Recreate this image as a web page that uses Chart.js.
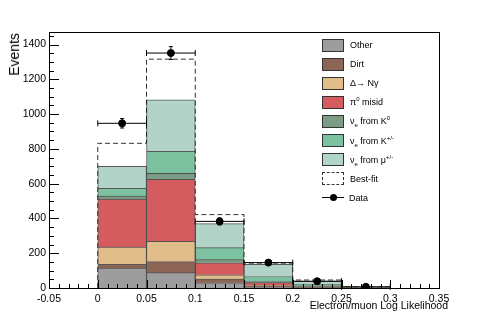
<!DOCTYPE html>
<html>
<head>
<meta charset="utf-8">
<script src="https://cdn.jsdelivr.net/npm/chart.js"></script>
<style>
  body { margin: 0; background: #fff; }
  #wrap { position: relative; width: 491px; height: 320px; font-family: "Liberation Sans", Arial, sans-serif; }
  #ytitle { position: absolute; left: 6px; top: 33px; font-size: 14px; writing-mode: vertical-rl; transform: rotate(180deg); line-height: 16px; }
  #xtitle { position: absolute; right: 43px; top: 299px; font-size: 10.5px; white-space: nowrap; }
  #legend { position: absolute; left: 322px; top: 35.5px; font-size: 9px; }
  .row { height: 19.1px; display: flex; align-items: center; }
  .box { width: 20px; height: 11px; border: 1px solid #333; margin-right: 6px; box-sizing: content-box; }
  .dash { border: 1px dashed #333; background: transparent; }
  .mark { position: relative; width: 22px; height: 13px; margin-right: 5px; }
  .mark::before { content: ""; position: absolute; left: 0; right: 0; top: 6px; height: 1px; background: #000; }
  .mark::after { content: ""; position: absolute; left: 7.5px; top: 3px; width: 7px; height: 7px; border-radius: 50%; background: #000; }
  sub, sup { font-size: 6px; line-height: 0; }
</style>
</head>
<body>
<div id="wrap">
  <canvas id="chart" width="491" height="320"></canvas>
  <div id="ytitle">Events</div>
  <div id="xtitle">Electron/muon Log Likelihood</div>
  <div id="legend"></div>
</div>
<script>
// bins of the log-likelihood variable
const binEdges = [0, 0.05, 0.1, 0.15, 0.2, 0.25, 0.3];
const binCenters = [0.025, 0.075, 0.125, 0.175, 0.225, 0.275];

// stacked background components (events per bin)
const other   = [115, 88, 30, 5, 1, 0];
const dirt    = [21, 64, 21, 5, 1, 0];
const deltaNg = [100, 117, 25, 4, 1, 0];
const pi0     = [275, 356, 69, 17, 4, 1];
const nueK0   = [17, 34, 18, 6, 2, 0];
const nueKpm  = [45, 127, 69, 29, 10, 1];
const nueMu   = [127, 296, 138, 70, 20, 2];

const bestFit    = [832, 1316, 422, 143, 46, 6];
const dataCounts = [947, 1351, 383, 146, 39, 7];
const dataErrors = [27, 37, 20, 12, 6, 3];

const components = [
  { label: 'Other', values: other, color: '#9d9d9d', html: 'Other' },
  { label: 'Dirt', values: dirt, color: '#8c6556', html: 'Dirt' },
  { label: 'Delta', values: deltaNg, color: '#e1bd89', html: '&Delta;&rarr; N&gamma;' },
  { label: 'pi0', values: pi0, color: '#d45c5e', html: '&pi;<sup>0</sup> misid' },
  { label: 'K0', values: nueK0, color: '#7c9c86', html: '&nu;<sub>e</sub> from K<sup>0</sup>' },
  { label: 'Kpm', values: nueKpm, color: '#7dc2a0', html: '&nu;<sub>e</sub> from K<sup>+/-</sup>' },
  { label: 'mu', values: nueMu, color: '#b1d3c8', html: '&nu;<sub>e</sub> from &mu;<sup>+/-</sup>' }
];

Chart.defaults.font.family = '"Liberation Sans", Arial, sans-serif';
Chart.defaults.color = '#000';

// best-fit outline as a step line along the bin edges
const fitPoints = [{ x: binEdges[0], y: 0 }];
bestFit.forEach((v, i) => fitPoints.push({ x: binEdges[i], y: v }));
fitPoints.push({ x: binEdges[binEdges.length - 1], y: 0 });

const datasets = components.map(c => ({
  type: 'bar',
  label: c.label,
  data: c.values.map((v, i) => ({ x: binCenters[i], y: v })),
  backgroundColor: c.color,
  borderColor: 'rgba(0,0,0,0.65)',
  borderWidth: 1,
  barPercentage: 1,
  categoryPercentage: 1,
  stack: 'mc',
  order: 2
}));

datasets.push({
  type: 'line',
  label: 'Best-fit',
  data: fitPoints,
  stepped: true,
  borderColor: '#333',
  borderWidth: 1,
  borderDash: [5, 3],
  pointRadius: 0,
  fill: false,
  stack: 'fit',
  order: 3
});

datasets.push({
  type: 'scatter',
  label: 'Data',
  data: dataCounts.map((v, i) => ({ x: binCenters[i], y: v })),
  backgroundColor: '#000',
  borderColor: '#000',
  pointRadius: 3.5,
  stack: 'data',
  order: 0
});

const frameAndTicks = {
  id: 'frameAndTicks',
  afterDatasetsDraw(chart) {
    const { ctx, chartArea: a, scales: { x, y } } = chart;
    ctx.save();
    ctx.strokeStyle = '#000';
    ctx.lineWidth = 1;

    // data error bars
    ctx.beginPath();
    dataCounts.forEach((v, i) => {
      const px = x.getPixelForValue(binCenters[i]);
      const py = y.getPixelForValue(v);
      const x0 = x.getPixelForValue(binEdges[i]);
      const x1 = x.getPixelForValue(binEdges[i + 1]);
      const yl = y.getPixelForValue(v - dataErrors[i]);
      const yh = y.getPixelForValue(v + dataErrors[i]);
      ctx.moveTo(x0, py); ctx.lineTo(x1, py);
      ctx.moveTo(x0, py - 3); ctx.lineTo(x0, py + 3);
      ctx.moveTo(x1, py - 3); ctx.lineTo(x1, py + 3);
      ctx.moveTo(px, yl); ctx.lineTo(px, yh);
      ctx.moveTo(px - 2, yl); ctx.lineTo(px + 2, yl);
      ctx.moveTo(px - 2, yh); ctx.lineTo(px + 2, yh);
    });
    ctx.stroke();

    // inward ticks
    ctx.beginPath();
    for (let v = 0; v <= 1450; v += 50) {
      const py = Math.round(y.getPixelForValue(v)) + 0.5;
      const len = v % 200 === 0 ? 10 : 5;
      ctx.moveTo(a.left, py); ctx.lineTo(a.left + len, py);
    }
    for (let i = -5; i <= 35; i++) {
      const px = Math.round(x.getPixelForValue(i / 100)) + 0.5;
      const len = i % 5 === 0 ? 8 : 4;
      ctx.moveTo(px, a.bottom); ctx.lineTo(px, a.bottom - len);
    }
    ctx.stroke();

    // frame
    ctx.strokeRect(Math.round(a.left) + 0.5, Math.round(a.top) + 0.5,
      Math.round(a.right - a.left), Math.round(a.bottom - a.top));
    ctx.restore();
  }
};

new Chart(document.getElementById('chart'), {
  type: 'bar',
  data: { datasets: datasets },
  options: {
    responsive: false,
    animation: false,
    layout: { padding: { left: 0, right: 52, top: 32, bottom: 0 } },
    plugins: { legend: { display: false }, tooltip: { enabled: false } },
    scales: {
      x: {
        type: 'linear',
        stacked: true,
        offset: false,
        min: -0.05,
        max: 0.35,
        grid: { display: false, drawTicks: false, offset: false },
        border: { display: false },
        afterFit: s => { s.height = 32; },
        ticks: {
          stepSize: 0.05,
          padding: 5,
          maxRotation: 0,
          font: { size: 10.5 },
          callback: v => String(Math.round(v * 100) / 100)
        }
      },
      y: {
        stacked: true,
        min: 0,
        max: 1472,
        grid: { display: false, drawTicks: false },
        border: { display: false },
        afterFit: s => { s.width = 49; },
        ticks: {
          stepSize: 200,
          padding: 3,
          font: { size: 10.5 },
          callback: v => (v % 200 === 0 ? String(v) : '')
        }
      }
    }
  },
  plugins: [frameAndTicks]
});

// legend
const legend = document.getElementById('legend');
components.forEach(c => {
  legend.insertAdjacentHTML('beforeend',
    `<div class="row"><div class="box" style="background:${c.color}"></div><span>${c.html}</span></div>`);
});
legend.insertAdjacentHTML('beforeend', '<div class="row"><div class="box dash"></div><span>Best-fit</span></div>');
legend.insertAdjacentHTML('beforeend', '<div class="row"><div class="mark"></div><span>Data</span></div>');
</script>
</body>
</html>
